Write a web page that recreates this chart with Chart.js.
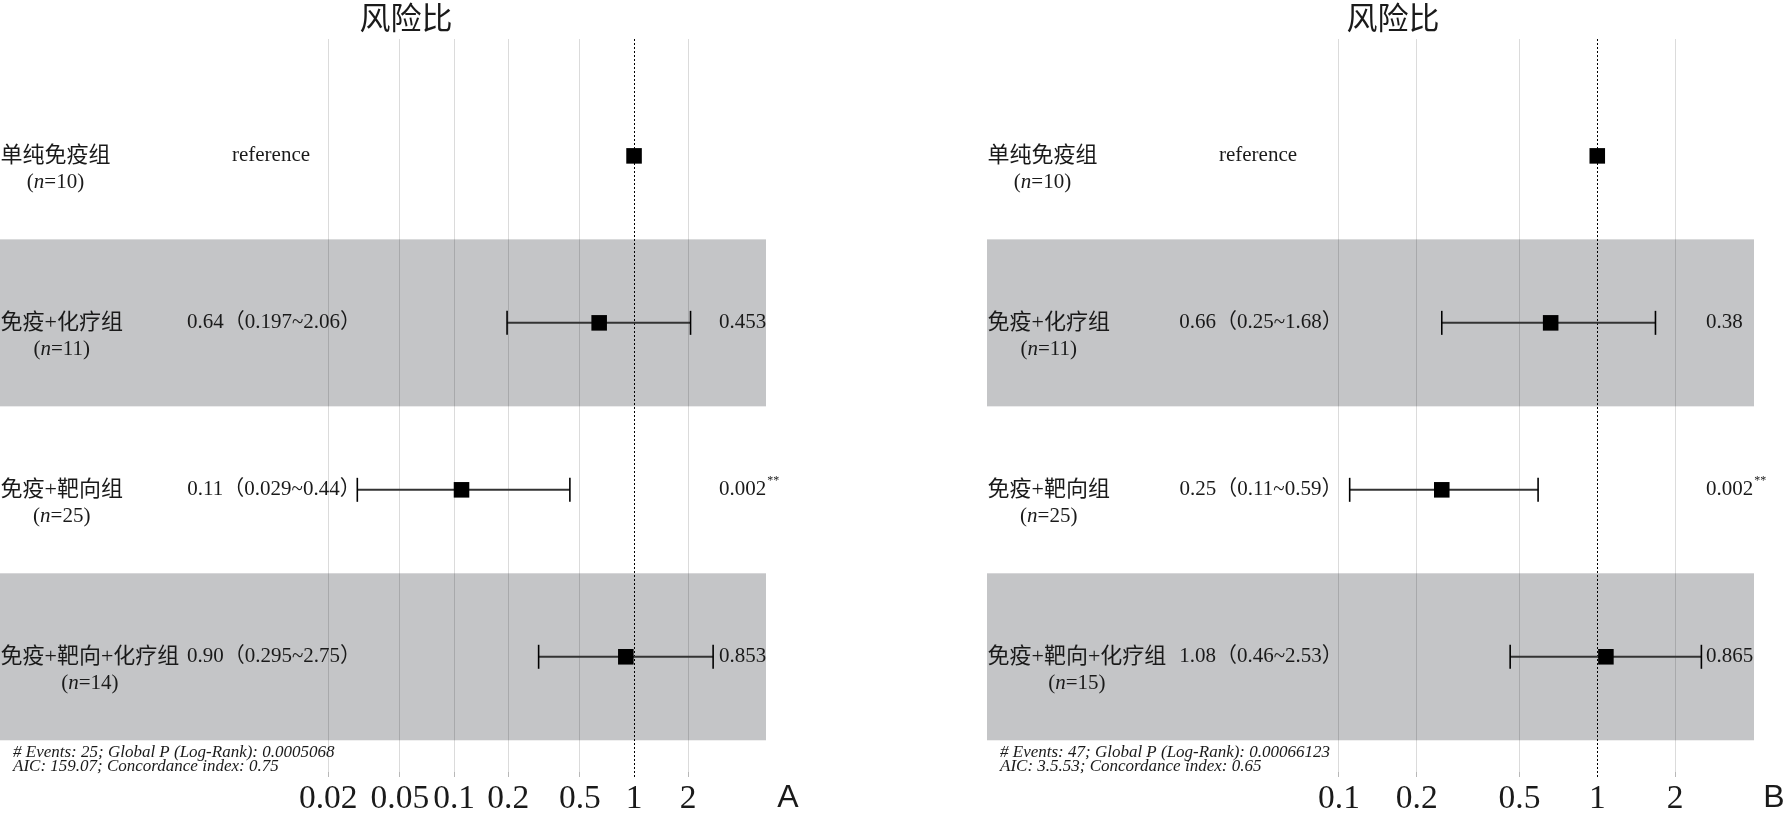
<!DOCTYPE html>
<html>
<head>
<meta charset="utf-8">
<script src="https://cdn.jsdelivr.net/npm/chart.js@4.4.1/dist/chart.umd.min.js"></script>
<style>
  html, body { margin: 0; padding: 0; background: #fff; }
  body { width: 1786px; height: 814px; position: relative; overflow: hidden; }
  .panel { position: absolute; top: 0; height: 814px; }
</style>
</head>
<body>
<div class="panel" style="left:0;width:800px"><canvas id="chartA"></canvas></div>
<div class="panel" style="left:987px;width:799px"><canvas id="chartB"></canvas></div>
<script>
// Forest plots (Cox model), two panels

const groups = ["单纯免疫组", "免疫+化疗组", "免疫+靶向组", "免疫+靶向+化疗组"];
const rows = [1, 2, 3, 4];
const refValue = 1;

// panel A
const nA = [10, 11, 25, 14];
const hrA = [1, 0.64, 0.11, 0.90];
const lowA = [null, 0.197, 0.029, 0.295];
const highA = [null, 2.06, 0.44, 2.75];
const pA = ["", "0.453", "0.002", "0.853"];
const starsA = ["", "", "**", ""];
const ticksA = [0.02, 0.05, 0.1, 0.2, 0.5, 1, 2];
const noteA = ["# Events: 25; Global P (Log-Rank): 0.0005068", "AIC: 159.07; Concordance index: 0.75"];

// panel B
const nB = [10, 11, 25, 15];
const hrB = [1, 0.66, 0.25, 1.08];
const lowB = [null, 0.25, 0.11, 0.46];
const highB = [null, 1.68, 0.59, 2.53];
const pB = ["", "0.38", "0.002", "0.865"];
const starsB = ["", "", "**", ""];
const ticksB = [0.1, 0.2, 0.5, 1, 2];
const noteB = ["# Events: 47; Global P (Log-Rank): 0.00066123", "AIC: 3.5.53; Concordance index: 0.65"];

const serif = '"Liberation Serif", "Noto Sans CJK SC", serif';
const textColor = "#1a1a1a";


// "(n=10)" with italic n, centred on cx
function drawN(ctx, n, cx, cy) {
    const parts = [
        { t: "(", f: "21px " + serif },
        { t: "n", f: "italic 21px " + serif },
        { t: "=" + n + ")", f: "21px " + serif }
    ];
    let total = 0;
    parts.forEach(p => {
        ctx.font = p.f;
        p.w = ctx.measureText(p.t).width;
        total += p.w;
    });
    let x = cx - total / 2;
    ctx.textAlign = "left";
    parts.forEach(p => {
        ctx.font = p.f;
        ctx.fillText(p.t, x, cy);
        x += p.w;
    });
}


function forestPlugin(cfg) {
    return {
        id: "forest",

        // shaded rows, under the grid
        beforeDraw(chart) {
            const { ctx, chartArea, scales: { y } } = chart;
            ctx.save();
            ctx.fillStyle = "#c4c5c7";
            rows.forEach((r, i) => {
                if (i % 2 === 1) {
                    const top = y.getPixelForValue(r - 0.5);
                    const bot = y.getPixelForValue(r + 0.5);
                    ctx.fillRect(chartArea.left, top, chartArea.right - chartArea.left, bot - top);
                }
            });
            ctx.restore();
        },

        // dotted line at HR = 1
        beforeDatasetsDraw(chart) {
            const { ctx, chartArea, scales: { x } } = chart;
            const px = Math.round(x.getPixelForValue(refValue)) + 0.5;
            ctx.save();
            ctx.strokeStyle = "#000";
            ctx.lineWidth = 1;
            ctx.setLineDash([2, 2]);
            ctx.beginPath();
            ctx.moveTo(px, chartArea.top);
            ctx.lineTo(px, chartArea.bottom + 5);
            ctx.stroke();
            ctx.restore();
        },

        // text columns, title, notes
        afterDraw(chart) {
            const { ctx, chartArea, scales: { y } } = chart;
            const left = chartArea.left;
            ctx.save();
            ctx.fillStyle = textColor;
            ctx.textBaseline = "middle";

            rows.forEach((r, i) => {
                const py = y.getPixelForValue(r);

                ctx.font = "22px " + serif;
                const w = ctx.measureText(groups[i]).width;
                const cx = left + 0.5 + w / 2;
                ctx.textAlign = "center";
                ctx.fillText(groups[i], cx, py);
                drawN(ctx, cfg.n[i], cx, py + 26.5);

                ctx.font = "21px " + serif;
                ctx.textAlign = "center";
                const hrText = cfg.low[i] === null
                    ? "reference"
                    : cfg.hr[i].toFixed(2) + "（" + cfg.low[i] + "~" + cfg.high[i] + "）";
                ctx.fillText(hrText, left + (cfg.low[i] === null ? 271 : 274), py);

                ctx.textAlign = "left";
                ctx.fillText(cfg.p[i], left + 719, py);
                if (cfg.stars[i]) {
                    const pw = ctx.measureText(cfg.p[i]).width;
                    ctx.font = "12px " + serif;
                    ctx.fillText(cfg.stars[i], left + 719 + pw + 1, py - 9);
                }
            });

            // title
            ctx.font = '31px "Noto Sans CJK SC", sans-serif';
            ctx.textAlign = "center";
            ctx.fillText("风险比", left + 406, 17);

            // footnote
            ctx.font = "italic 17px " + serif;
            ctx.textAlign = "left";
            ctx.textBaseline = "alphabetic";
            ctx.fillText(cfg.note[0], left + 13, 756.5);
            ctx.fillText(cfg.note[1], left + 13, 770.5);

            // panel letter
            ctx.font = '32px "Liberation Sans", sans-serif';
            ctx.textAlign = "center";
            ctx.textBaseline = "middle";
            ctx.fillText(cfg.letter, left + cfg.letterX, 798);
            ctx.restore();
        }
    };
}


function makePanel(canvasId, cfg) {
    const squares = {
        data: rows.map((r, i) => ({ x: cfg.hr[i], y: r })),
        showLine: false,
        pointStyle: "rect",
        pointRadius: 11,
        pointHoverRadius: 11,
        pointBackgroundColor: "#000",
        pointBorderColor: "#000",
        pointBorderWidth: 0,
        order: 0
    };

    const whiskers = rows.map((r, i) => {
        if (cfg.low[i] === null) return null;
        return {
            data: [{ x: cfg.low[i], y: r }, { x: cfg.high[i], y: r }],
            showLine: true,
            borderColor: "#333",
            borderWidth: 2,
            pointStyle: "line",
            pointRotation: 90,
            pointRadius: 12,
            pointHoverRadius: 12,
            pointBorderColor: "#000",
            pointBorderWidth: 1.6,
            order: 1
        };
    }).filter(Boolean);

    return new Chart(document.getElementById(canvasId), {
        type: "scatter",
        data: { datasets: [...whiskers, squares] },
        plugins: [forestPlugin(cfg)],
        options: {
            responsive: true,
            maintainAspectRatio: false,
            animation: false,
            events: [],
            layout: {
                autoPadding: false,
                padding: { top: 39, right: cfg.padRight, bottom: 0, left: 0 }
            },
            plugins: {
                legend: { display: false },
                tooltip: { enabled: false }
            },
            scales: {
                x: {
                    type: "logarithmic",
                    min: cfg.xMin,
                    max: cfg.xMax,
                    afterBuildTicks: scale => {
                        scale.ticks = cfg.ticks.map(v => ({ value: v }));
                    },
                    afterFit: scale => {
                        scale.height = 42;
                    },
                    border: { display: false },
                    grid: {
                        color: c => (c.tick && c.tick.value === refValue) ? "rgba(0,0,0,0)" : "rgba(0,0,0,0.14)",
                        tickColor: c => (c.tick && c.tick.value === refValue) ? "rgba(0,0,0,0)" : "#b8b8b8",
                        lineWidth: 1,
                        tickLength: 5
                    },
                    ticks: {
                        autoSkip: false,
                        maxRotation: 0,
                        minRotation: 0,
                        padding: 2,
                        color: textColor,
                        font: { family: serif, size: 33.5 },
                        callback: v => String(v)
                    }
                },
                y: {
                    type: "linear",
                    min: 0.3,
                    max: 4.69,
                    reverse: true,
                    display: false
                }
            }
        }
    });
}


makePanel("chartA", {
    n: nA, hr: hrA, low: lowA, high: highA, p: pA, stars: starsA,
    ticks: ticksA, note: noteA,
    xMin: 3.170e-4, xMax: 5.409,
    padRight: 34, letter: "A", letterX: 788
});

makePanel("chartB", {
    n: nB, hr: hrB, low: lowB, high: highB, p: pB, stars: starsB,
    ticks: ticksB, note: noteB,
    xMin: 4.337e-3, xMax: 4.044,
    padRight: 32, letter: "B", letterX: 787
});
</script>
</body>
</html>
